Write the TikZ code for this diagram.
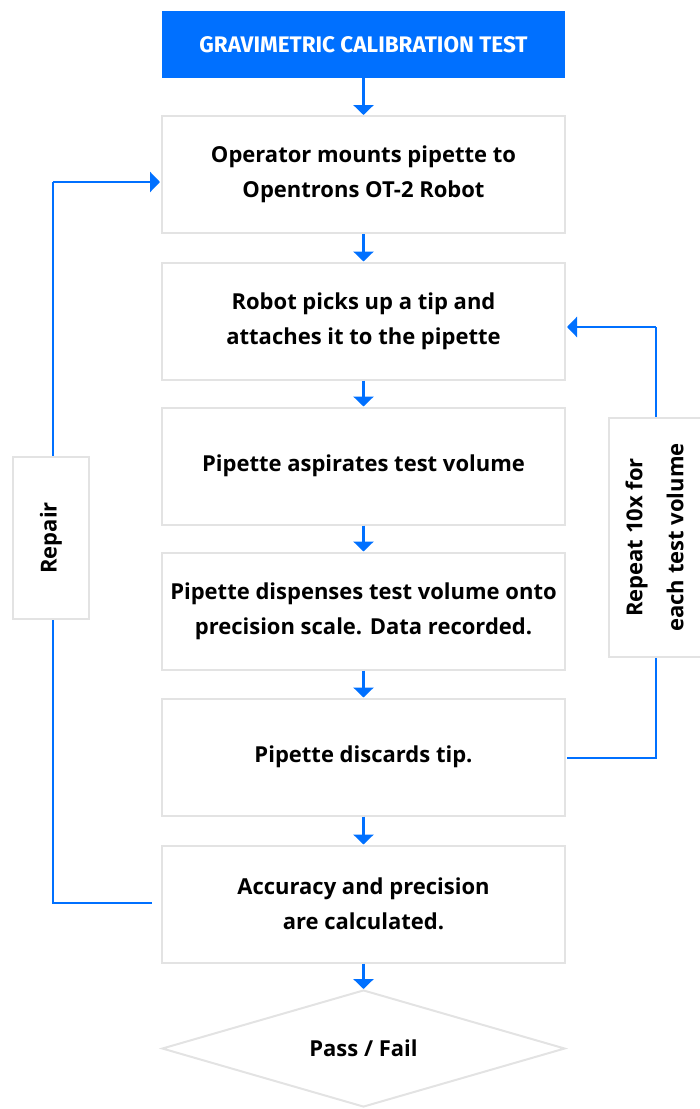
\documentclass[tikz,border=0pt]{standalone}
\usepackage{fontspec}
\setmainfont{Open Sans}
\newfontfamily\titlefont{Fira Sans}
\usetikzlibrary{shapes.geometric,arrows.meta}
\definecolor{blu}{RGB}{0,112,255}
\definecolor{gry}{RGB}{227,227,227}
\begin{document}
\begin{tikzpicture}[x=1pt,y=-1pt,
  stepbox/.style={draw=gry,line width=2pt,fill=white,minimum width=403pt,minimum height=117pt,inner sep=0pt,align=center,font=\fontsize{22}{35}\selectfont\bfseries},
  titlebox/.style={fill=blu,minimum width=403pt,minimum height=67pt,inner sep=0pt,text=white,font=\titlefont\fontsize{22.5}{26}\selectfont\bfseries},
  sidebox/.style={draw=gry,line width=2pt,fill=white,inner sep=0pt,align=center,font=\fontsize{22}{37}\selectfont\bfseries},
  decbox/.style={draw=gry,line width=2pt,shape=diamond,aspect=3.44,minimum width=403pt,minimum height=117pt,inner sep=0pt,font=\fontsize{22}{26}\selectfont\bfseries},
  arr/.style={draw=blu,line width=2.5pt,-{Triangle[width=20pt,length=10pt]}},
  loopline/.style={draw=blu,line width=2.5pt}
]
\useasboundingbox (0,0) rectangle (700,1109);
\node[titlebox] (t) at (363.5,44.5) {GRAVIMETRIC CALIBRATION TEST};
\node[stepbox] (b1) at (363.5,174.5) {Operator mounts pipette to\\Opentrons OT-2 Robot};
\node[stepbox] (b2) at (363.5,321) {Robot picks up a tip and\\attaches it to the pipette};
\node[stepbox] (b3) at (363.5,466) {Pipette aspirates test volume};
\node[stepbox] (b4) at (363.5,611) {Pipette dispenses test volume onto\\precision scale. Data recorded.};
\node[stepbox] (b5) at (363.5,757) {Pipette discards tip.};
\node[stepbox] (b6) at (363.5,904) {Accuracy and precision\\are calculated.};
\node[decbox] (d) at (363.5,1048.5) {Pass / Fail};

\draw[arr] (t.south) -- (b1.north);
\draw[arr] (b1.south) -- (b2.north);
\draw[arr] (b2.south) -- (b3.north);
\draw[arr] (b3.south) -- (b4.north);
\draw[arr] (b4.south) -- (b5.north);
\draw[arr] (b5.south) -- (b6.north);
\draw[arr] (b6.south) -- (d.north);

% Repair loop
\coordinate (rs) at (152,903);
\coordinate (rc) at (53,903);
\coordinate (rt) at (53,182);
\coordinate (re) at (160,182);
\draw[loopline] (rs) -- (rc) -- (rt);
\draw[arr] (rt) -- (re);
\node[sidebox,minimum width=76pt,minimum height=162pt] (rep) at (51,538) {\rotatebox{90}{Repair}};

% Repeat loop
\coordinate (ps) at (567,758);
\coordinate (pc) at (656,758);
\coordinate (pt) at (656,327);
\coordinate (pe) at (567,327);
\draw[loopline] (ps) -- (pc) -- (pt);
\draw[arr] (pt) -- (pe);
\node[sidebox,minimum width=93pt,minimum height=239pt] (rpt) at (655.5,537.5) {\rotatebox{90}{\begin{tabular}{@{}c@{}}Repeat 10x for\\[4pt]each test volume\end{tabular}}};
\end{tikzpicture}
\end{document}
